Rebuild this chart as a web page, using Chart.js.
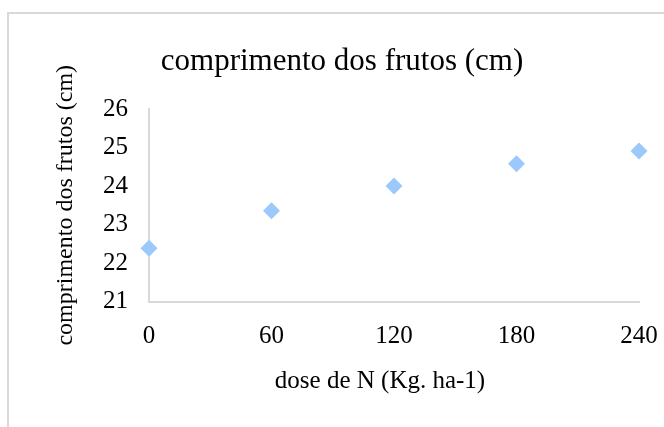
<!DOCTYPE html>
<html><head><meta charset="utf-8">
<script src="https://cdn.jsdelivr.net/npm/chart.js@4"></script>
<style>
html,body{margin:0;padding:0;background:#fff;overflow:hidden}
#wrap{position:relative;width:664px;height:427px;overflow:hidden}
#frame{position:absolute;left:7px;top:12px;width:720px;height:500px;border:2px solid #d9d9d9;box-sizing:border-box}
canvas{position:absolute;left:0;top:0}
</style></head><body>
<div id="wrap"><div id="frame"></div><canvas id="c" width="664" height="427"></canvas></div>
<script>
const doses = [0, 60, 120, 180, 240];
const comprimento = [22.38, 23.36, 24.0, 24.58, 24.91];
const xTicks = [0, 60, 120, 180, 240];
const yTicks = [21, 22, 23, 24, 25, 26];
const chartTitle = 'comprimento dos frutos (cm)';
const xTitle = 'dose de N (Kg. ha-1)';
const yTitle = 'comprimento dos frutos (cm)';

const FONT = '"Liberation Serif", "Times New Roman", serif';

const titlesPlugin = {
  id: 'titles',
  afterDraw(chart) {
    const ctx = chart.ctx;
    const a = chart.chartArea;
    ctx.save();
    ctx.fillStyle = '#000';
    ctx.textAlign = 'center';
    ctx.textBaseline = 'middle';
    ctx.font = '31px ' + FONT;
    ctx.fillText(chartTitle, 342, 62);
    ctx.font = '25px ' + FONT;
    ctx.fillText(xTitle, 380, 381);
    ctx.font = '24px ' + FONT;
    ctx.translate(66, (a.top + a.bottom) / 2);
    ctx.rotate(-Math.PI / 2);
    ctx.fillText(yTitle, 0, 0);
    ctx.restore();
  }
};

new Chart(document.getElementById('c'), {
  type: 'scatter',
  data: {
    datasets: [{
      data: doses.map((d, i) => ({ x: d, y: comprimento[i] })),
      pointStyle: 'rectRot',
      pointRadius: 8.5,
      pointHoverRadius: 8.5,
      backgroundColor: '#9cc9fb',
      borderColor: '#9cc9fb',
      borderWidth: 0,
      clip: false
    }]
  },
  options: {
    responsive: false,
    animation: false,
    devicePixelRatio: 1,
    layout: { padding: { left: 0, top: 109, right: 25, bottom: 0 } },
    plugins: { legend: { display: false }, title: { display: false }, tooltip: { enabled: false } },
    scales: {
      x: {
        type: 'linear',
        min: 0, max: 240,
        afterBuildTicks(s) { s.ticks = xTicks.map(v => ({ value: v })); },
        afterFit(s) { s.height = 125.5; s.paddingLeft = 0; s.paddingRight = 0; },
        grid: { display: false, drawTicks: false },
        border: { display: true, color: '#d9d9d9', width: 2 },
        ticks: { padding: 20, maxRotation: 0, color: '#000', font: { family: FONT, size: 25 } }
      },
      y: {
        type: 'linear',
        min: 21, max: 26,
        afterBuildTicks(s) { s.ticks = yTicks.map(v => ({ value: v })); },
        afterFit(s) { s.width = 149; s.paddingTop = 0; s.paddingBottom = 0; },
        grid: { display: false, drawTicks: false },
        border: { display: true, color: '#d9d9d9', width: 2 },
        ticks: { padding: 21, color: '#000', font: { family: FONT, size: 25 } }
      }
    }
  },
  plugins: [titlesPlugin]
});
</script>
</body></html>
